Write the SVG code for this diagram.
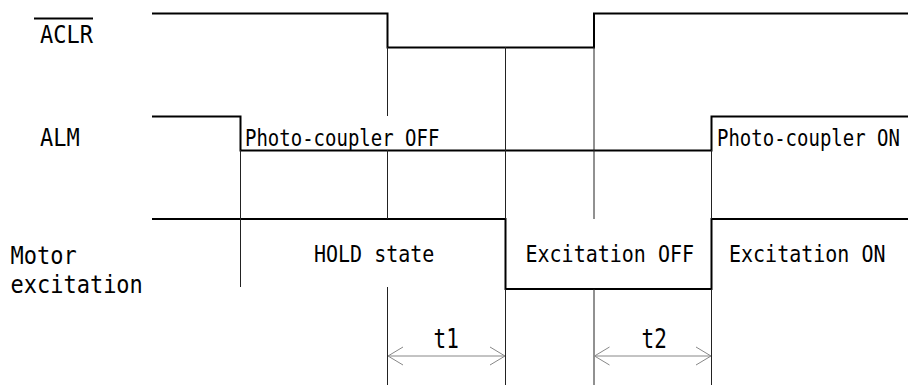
<svg xmlns="http://www.w3.org/2000/svg" width="908" height="385" viewBox="0 0 908 385">
<style>
  .sig{fill:none;stroke:#000;stroke-width:2;stroke-linejoin:miter}
  .guide{fill:none;stroke:#222;stroke-width:1}
  .dim{fill:none;stroke:#888;stroke-width:1}
  text{font-family:"DejaVu Sans Mono","Liberation Mono",monospace;fill:#000}
  .lbl{font-size:22px}
  .st{font-size:20px}
  .pc{font-size:19px}
  .t{font-size:21px}
</style>
<defs>
  <marker id="ah" markerWidth="16" markerHeight="20" refX="15" refY="10" orient="auto-start-reverse" markerUnits="userSpaceOnUse">
    <path d="M0,1 L15,10 L0,19" fill="none" stroke="#888" stroke-width="1"/>
  </marker>
</defs>
<rect width="908" height="385" fill="#fff"/>
<g id="aclr">
  <text class="lbl" transform="translate(40,43.3) scale(1,1.15)">ACLR</text>
  <line x1="34" y1="18.5" x2="93" y2="18.5" stroke="#000" stroke-width="2"/>
  <path class="sig" d="M152,13.5 H387.5 V47.5 H594 V13.5 H908"/>
</g>
<g id="alm">
  <text class="lbl" transform="translate(40,146) scale(1,1.15)">ALM</text>
  <path class="sig" d="M152,116.5 H240.5 V150.5 H711.5 V116.5 H908"/>
  <text class="pc" transform="translate(245,146) scale(1,1.24)">Photo-coupler OFF</text>
  <text class="pc" transform="translate(717,146) scale(1,1.24)">Photo-coupler ON</text>
</g>
<g id="motor">
  <text class="lbl" transform="translate(10.5,264.3) scale(1,1.15)">Motor</text>
  <text class="lbl" transform="translate(10.5,293.3) scale(1,1.15)">excitation</text>
  <path class="sig" d="M152,219 H505.5 V289 H711.5 V219 H908"/>
  <text class="st" transform="translate(314,261.7) scale(1,1.15)">HOLD state</text>
  <text class="st" transform="translate(525.5,261.7) scale(1,1.15)">Excitation OFF</text>
  <text class="st" transform="translate(729,261.7) scale(1,1.15)">Excitation ON</text>
</g>
<g id="connectors">
  <path class="guide" d="M240.5,150 V287 M387.5,47 V116 M387.5,150 V219 M387.5,287 V385 M505.5,47 V219 M505.5,289 V385 M594,47 V219 M594,289 V385 M711.5,150 V219 M711.5,289 V385"/>
  <line class="dim" x1="388" y1="356" x2="505" y2="356" marker-start="url(#ah)" marker-end="url(#ah)"/>
  <line class="dim" x1="594.5" y1="356" x2="711" y2="356" marker-start="url(#ah)" marker-end="url(#ah)"/>
</g>
<g id="t1">
  <text class="t" transform="translate(433.5,348.3) scale(1,1.3)">t1</text>
</g>
<g id="t2">
  <text class="t" transform="translate(641.5,348.3) scale(1,1.3)">t2</text>
</g>
</svg>
